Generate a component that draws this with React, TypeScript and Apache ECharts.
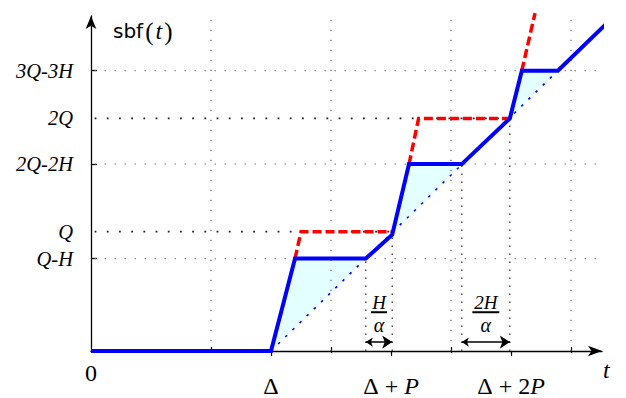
import React, { useEffect, useRef } from 'react';
import * as echarts from 'echarts';

// ---- data (x: 1 unit = one grid column, y: level units) ----
const xTickValues = [0, 1.5, 2.5, 3.5];
const xTickLabels = ['0', 'Δ', 'Δ+P', 'Δ+2P'];
const xOuterTicks = [1.5, 2.5, 3.5];
const gridXValues = [1, 2, 3, 4];
const yTickValues = [0.93, 1.2, 1.88, 2.34, 2.82];
const yTickLabels = ['Q-H', 'Q', '2Q-2H', '2Q', '3Q-3H'];
const yLevelEnds = [4.31, 2.51, 4.31, 3.49, 4.31];
const yAxisTicks = [0.93, 1.88, 2.82];

const sbfPoints = [
  [0, 0], [1.5, 0], [1.7, 0.93], [2.29, 0.93], [2.51, 1.17], [2.65, 1.88],
  [3.09, 1.88], [3.49, 2.34], [3.59, 2.82], [3.89, 2.82], [4.31, 3.31],
];
const upperSegments = [
  [[1.7, 0.93], [1.75, 1.2], [2.51, 1.2]],
  [[2.65, 1.88], [2.73, 2.34], [3.49, 2.34]],
  [[3.59, 2.82], [3.7, 3.4]],
];
const diagonal = [[1.5, 0], [3.89, 2.82]];
const gapTriangles = [
  [[1.5, 0], [1.7, 0.93], [2.29, 0.93]],
  [[2.51, 1.17], [2.65, 1.88], [3.09, 1.88]],
  [[3.49, 2.34], [3.59, 2.82], [3.89, 2.82]],
];
const guidePoints = [[2.29, 0.93], [2.51, 1.17], [3.09, 1.88], [3.49, 2.34]];
const annoSpans = [[2.29, 2.51], [3.09, 3.49]];
const annoNumerators = ['H', '2H'];
const annoDenominator = 'α';

const X_MAX = 4.258;
const Y_MAX = 3.37;
const SERIF = '"Liberation Serif", "Times New Roman", serif';

function xLabelRich(label: string) {
  if (label === '0') return '{z|0}';
  return label
    .split('')
    .map((c) => {
      if (c === '+') return '{d| + }';
      if (/[A-Z]/.test(c)) return `{di|${c}}`;
      return `{d|${c}}`;
    })
    .join('');
}

export default function App() {
  const ref = useRef<HTMLDivElement>(null);
  useEffect(() => {
    if (!ref.current) return;
    const chart = echarts.init(ref.current, undefined, { renderer: 'svg' });
    const gridBox = { left: 91, right: 24, top: 16, bottom: 45 };

    const series: any[] = [];

    // shaded gaps
    series.push({
      type: 'custom',
      xAxisIndex: 0,
      yAxisIndex: 0,
      z: 1,
      clip: false,
      encode: { x: [0, 2, 4], y: [1, 3, 5] },
      data: gapTriangles.map((t) => t.flat()),
      renderItem: (params: any, api: any) => {
        const pts = [0, 1, 2].map((k) => api.coord([api.value(2 * k), api.value(2 * k + 1)]));
        return { type: 'polygon', shape: { points: pts }, style: { fill: '#e3ffff' } };
      },
    });

    // vertical grid lines
    gridXValues.forEach((x) => {
      series.push({
        type: 'line', z: 2, symbol: 'none', clip: false, silent: true,
        data: [[x, 0], [x, Y_MAX]],
        lineStyle: { color: '#666', width: 1.2, type: [1.2, 8.8] },
      });
    });

    // horizontal level lines
    yTickValues.forEach((y, i) => {
      const strong = !yTickLabels[i].includes('H');
      series.push({
        type: 'line', z: 2, symbol: 'none', clip: false, silent: true,
        data: [[0.03, y], [yLevelEnds[i], y]],
        lineStyle: strong
          ? { color: '#222', width: 1.8, type: [1.8, 10.4] }
          : { color: '#777', width: 1.2, type: [1.2, 8.8] },
      });
    });

    // guide verticals for annotations
    guidePoints.forEach((p) => {
      series.push({
        type: 'line', z: 2, symbol: 'none', clip: false, silent: true,
        data: [[p[0], 0], p],
        lineStyle: { color: '#444', width: 1.4, type: [1.4, 6.6] },
      });
    });

    // dotted diagonal
    series.push({
      type: 'line', z: 3, symbol: 'none', clip: false,
      data: diagonal,
      lineStyle: { color: '#0000ff', width: 1.6, type: [2.5, 7.5] },
    });

    // red dashed upper bound
    upperSegments.forEach((seg) => {
      series.push({
        type: 'line', z: 4, symbol: 'none', clip: false,
        data: seg,
        lineStyle: { color: '#ff0000', width: 3.5, type: [9, 4], join: 'miter' },
      });
    });

    // blue sbf line
    series.push({
      type: 'line', z: 5, symbol: 'none', clip: false,
      data: sbfPoints,
      lineStyle: { color: '#0000ff', width: 4, join: 'miter' },
    });

    // double arrows
    series.push({
      type: 'lines', coordinateSystem: 'cartesian2d', z: 6,
      symbol: ['arrow', 'arrow'], symbolSize: [7, 10],
      data: annoSpans.map((s) => ({ coords: [[s[0], 0.09], [s[1], 0.09]] })),
      lineStyle: { color: '#000', width: 1.5, opacity: 1, curveness: 0 },
    });

    // fractions
    series.push({
      type: 'custom', z: 6, clip: false,
      encode: { x: [0, 1], y: 2 },
      data: annoSpans.map((s) => [s[0], s[1], 0.39]),
      renderItem: (params: any, api: any) => {
        const i = params.dataIndex;
        const xc = (api.value(0) + api.value(1)) / 2;
        const pNum = api.coord([xc, 0.49]);
        const pBar = api.coord([xc, 0.39]);
        const pDen = api.coord([xc, 0.265]);
        const num = annoNumerators[i];
        const w = 5 + 11 * num.length;
        return {
          type: 'group',
          children: [
            { type: 'text', style: { text: num, x: pNum[0], y: pNum[1], font: `italic 19px ${SERIF}`, fill: '#000', align: 'center', verticalAlign: 'middle' } },
            { type: 'rect', shape: { x: pBar[0] - w / 2, y: pBar[1] - 1, width: w, height: 2 }, style: { fill: '#000' } },
            { type: 'text', style: { text: annoDenominator, x: pDen[0], y: pDen[1], font: `italic 20px ${SERIF}`, fill: '#000', align: 'center', verticalAlign: 'middle' } },
          ],
        };
      },
    });

    chart.setOption({
      animation: false,
      grid: [
        { ...gridBox },
        { ...gridBox },
      ],
      xAxis: [
        {
          type: 'value', gridIndex: 0, min: 0, max: X_MAX,
          axisLine: { show: true, lineStyle: { color: '#000', width: 1.3 }, symbol: ['none', 'arrow'], symbolSize: [8, 14] },
          axisTick: { show: true, length: 5, customValues: xOuterTicks, lineStyle: { color: '#000', width: 1.2 } },
          axisLabel: {
            show: true, margin: 12, customValues: xTickValues,
            formatter: (v: number) => {
              const idx = xTickValues.findIndex((t) => Math.abs(t - v) < 1e-6);
              return idx >= 0 ? xLabelRich(xTickLabels[idx]) : '';
            },
            rich: {
              z: { fontFamily: SERIF, fontSize: 24, color: '#000', lineHeight: 20 },
              d: { fontFamily: SERIF, fontSize: 24, color: '#000', lineHeight: 46 },
              di: { fontFamily: SERIF, fontSize: 24, fontStyle: 'italic', color: '#000', lineHeight: 46 },
            },
          },
          splitLine: { show: false },
          name: 't', nameLocation: 'end', nameGap: 1,
          nameTextStyle: { fontFamily: SERIF, fontSize: 24, fontStyle: 'italic', color: '#000', verticalAlign: 'top', align: 'left', lineHeight: 24, padding: [7, 0, 0, 0] },
        },
        {
          type: 'value', gridIndex: 1, min: 0, max: X_MAX,
          axisLine: { show: false },
          axisTick: { show: true, inside: true, length: 6, customValues: gridXValues, lineStyle: { color: '#000', width: 1.2 } },
          axisLabel: { show: false },
          splitLine: { show: false },
        },
      ],
      yAxis: [
        {
          type: 'value', gridIndex: 0, min: 0, max: Y_MAX,
          axisLine: { show: true, lineStyle: { color: '#000', width: 1.3 }, symbol: ['none', 'arrow'], symbolSize: [8, 13] },
          axisTick: { show: true, inside: true, length: 6, customValues: yAxisTicks, lineStyle: { color: '#000', width: 1.3 } },
          axisLabel: {
            show: true, margin: 18, customValues: yTickValues,
            formatter: (v: number) => {
              const idx = yTickValues.findIndex((t) => Math.abs(t - v) < 1e-6);
              return idx >= 0 ? `{i|${yTickLabels[idx]}}` : '';
            },
            rich: { i: { fontFamily: SERIF, fontSize: 20.5, fontStyle: 'italic', color: '#000' } },
          },
          splitLine: { show: false },
          name: '{s|sbf}{p|(}{i|t}{p|)}', nameLocation: 'end', nameGap: -15,
          nameTextStyle: {
            align: 'left', verticalAlign: 'middle', padding: [0, 0, 0, 22],
            rich: {
              s: { fontFamily: '"DejaVu Sans", sans-serif', fontSize: 20, color: '#000' },
              p: { fontFamily: SERIF, fontSize: 25, color: '#000', padding: [0, 2, 0, 2] },
              i: { fontFamily: SERIF, fontSize: 24, fontStyle: 'italic', color: '#000' },
            },
          },
        },
        { type: 'value', gridIndex: 1, min: 0, max: Y_MAX, show: false },
      ],
      series,
    });
    return () => chart.dispose();
  }, []);
  return <div ref={ref} style={{ position: 'fixed', left: 0, top: 0, width: 626, height: 398, background: '#fff' }} />;
}
